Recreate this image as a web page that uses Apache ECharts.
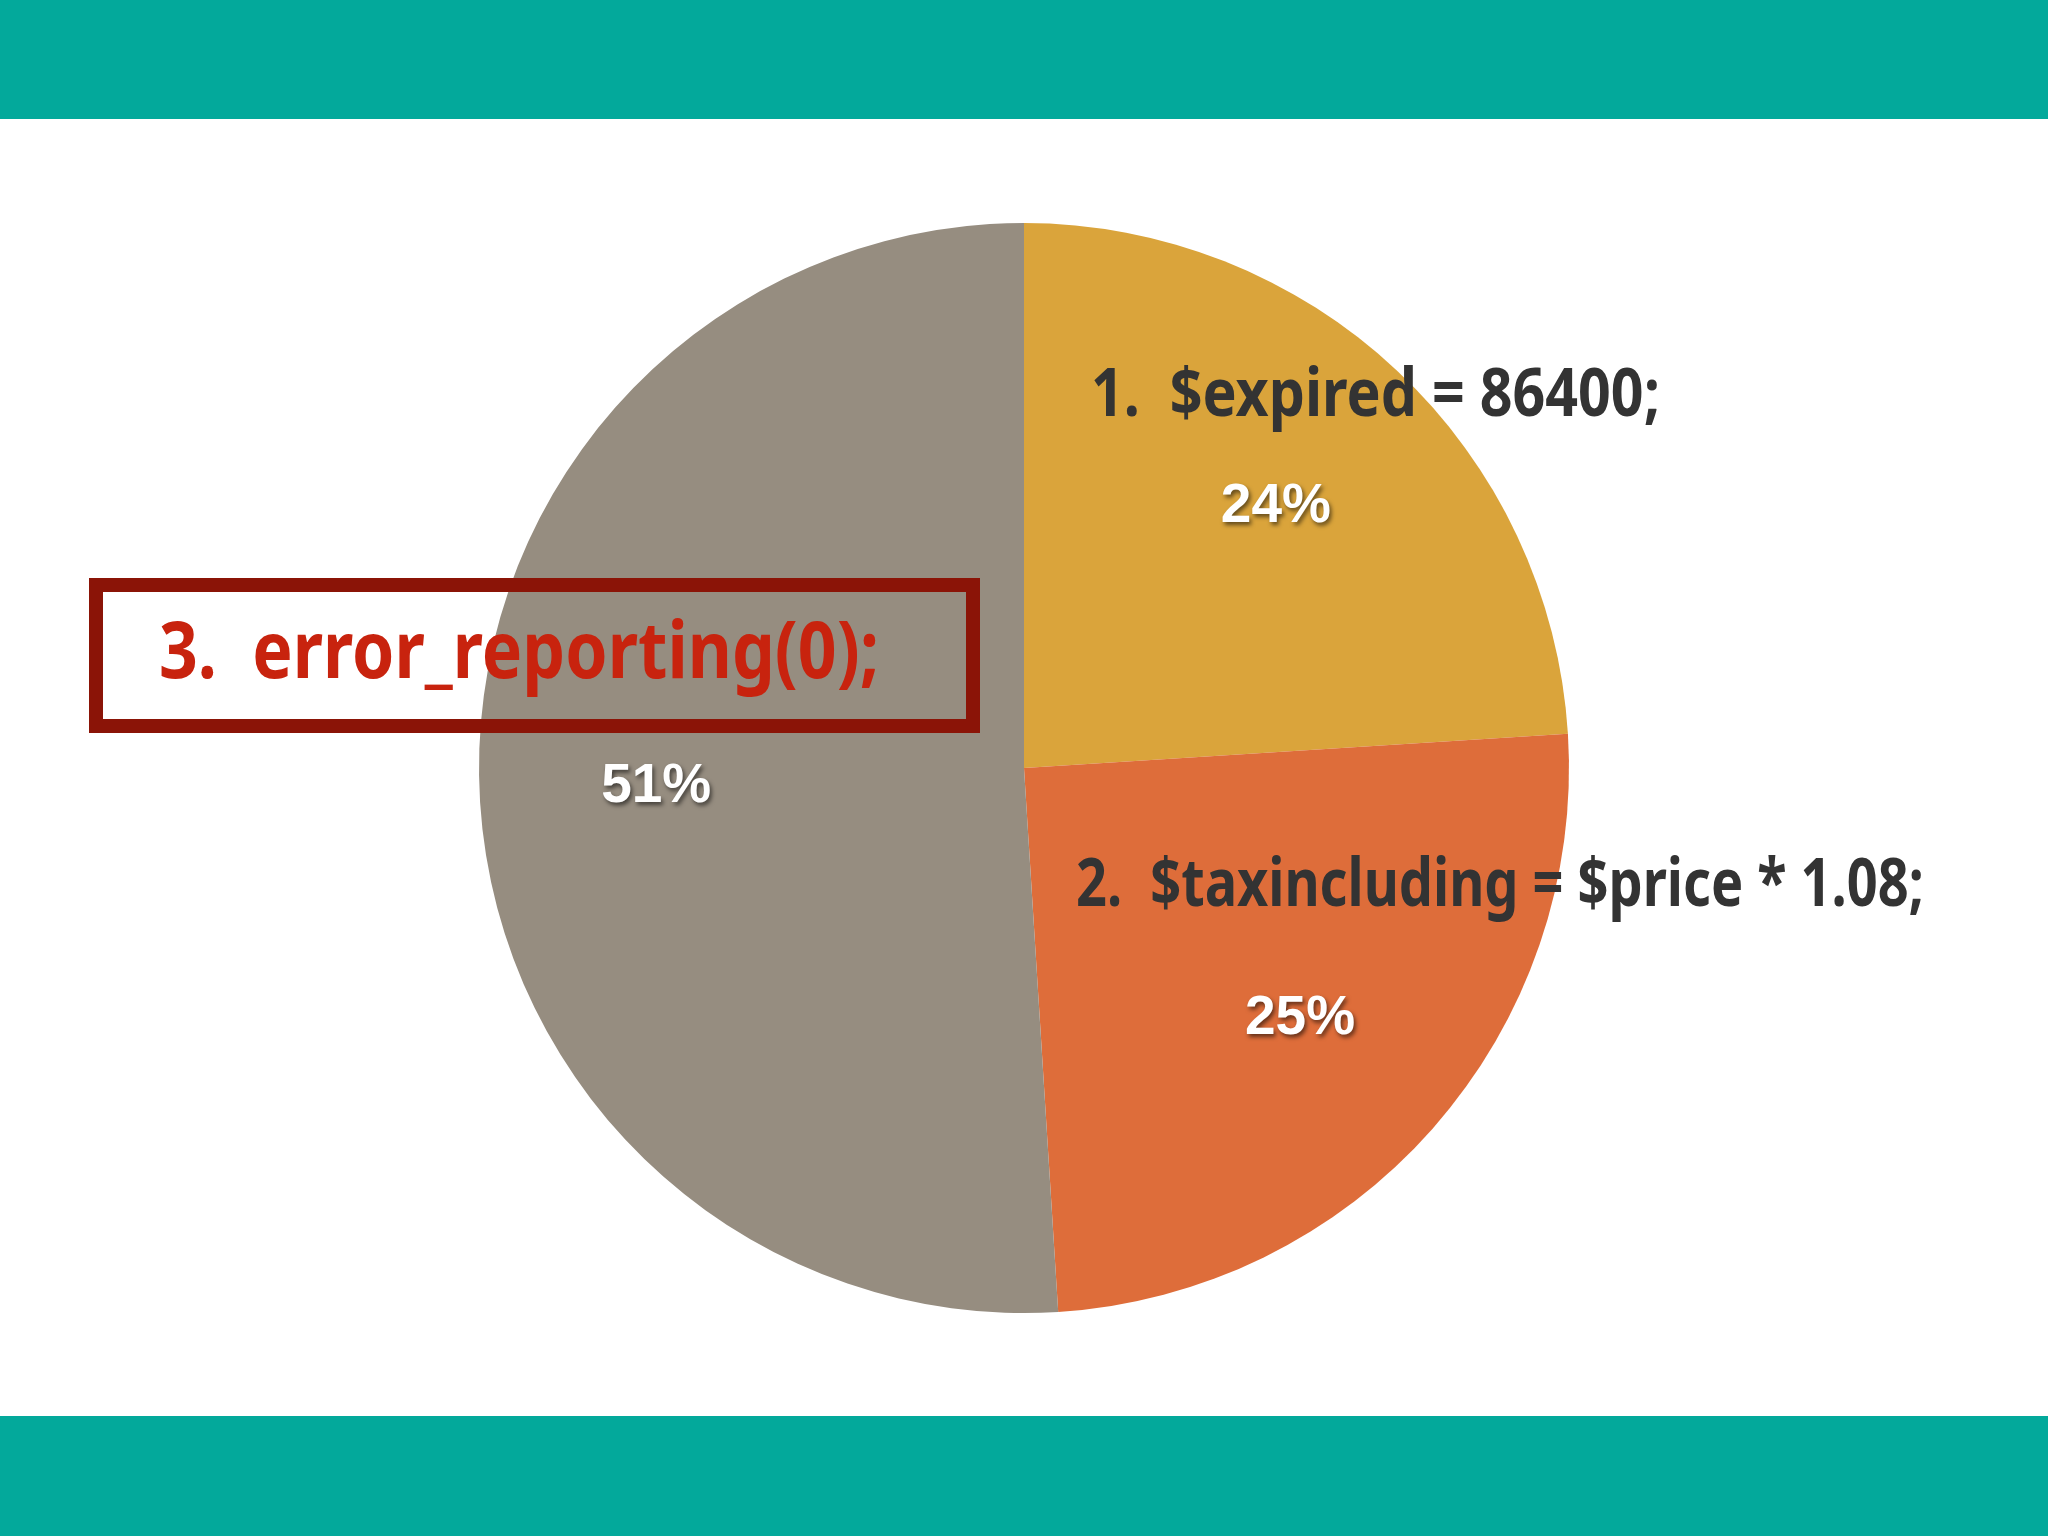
<!DOCTYPE html>
<html>
<head>
<meta charset="utf-8">
<script src="https://cdn.jsdelivr.net/npm/echarts@6.0.0/dist/echarts.min.js"></script>
<style>
html, body { margin: 0; padding: 0; background: #fff; }
#chart { width: 2048px; height: 1536px; }
</style>
</head>
<body>
<div id="chart"></div>
<script>

// slices, clockwise from 12 o'clock
var codeLines = [ '1.  $expired = 86400;', '2.  $taxincluding = $price * 1.08;', '3.  error_reporting(0);' ];
var shares = [ 24, 25, 51 ];
var sliceColors = [ '#DAA43B', '#DE6D3A', '#968D80' ];

var teal = '#03A99B';

var dom = document.getElementById('chart');
var chart = echarts.init(dom);

var pieData = [];
var labelData = [];
var i = 0, iLen = shares.length;
for( ; i < iLen; ++i ){
	pieData.push({ name: codeLines[ i ], value: shares[ i ], itemStyle: { color: sliceColors[ i ] } });
	labelData.push({ name: codeLines[ i ], value: shares[ i ] });
}

// no condensed face installed -> squeeze a bold face horizontally to the wanted width
var codeFamily = '"Noto Sans", sans-serif';
var measureCtx = document.createElement('canvas').getContext('2d');
var condensedText = function( text, x, y, size, width, color ){
	var font = 'bold ' + size + 'px ' + codeFamily;
	measureCtx.font = font;
	var w = measureCtx.measureText( text ).width;
	return {
		type: 'text', x: x, y: y, z: 10, scaleX: width / w,
		style: { text: text, fill: color, font: font, textAlign: 'left', textVerticalAlign: 'middle' }
	};
};

var option = {
	backgroundColor: '#ffffff',
	animation: false,
	series: [
		{
			type: 'pie', silent: true,
			center: [ '50%', '50%' ], radius: [ 0, 545 ],
			startAngle: 90, clockwise: true,
			label: { show: false }, labelLine: { show: false },
			itemStyle: { borderWidth: 0 },
			data: pieData
		},
		// transparent ring just to place the % labels further out
		{
			type: 'pie', silent: true,
			center: [ '50%', '50%' ], radius: [ 185, 545 ],
			startAngle: 90, clockwise: true,
			itemStyle: { color: 'rgba(0,0,0,0)' },
			labelLine: { show: false },
			label: {
				show: true, position: 'inside', formatter: '{c}%', offset: [ 0, 7 ],
				color: '#ffffff', fontFamily: '"Liberation Sans", sans-serif',
				fontWeight: 'bold', fontSize: 55,
				textShadowColor: 'rgba(0,0,0,0.55)', textShadowBlur: 4,
				textShadowOffsetX: 2, textShadowOffsetY: 3
			},
			data: labelData
		}
	],
	graphic: [
		{ type: 'rect', shape: { x: 0, y: 0, width: 2048, height: 119 }, style: { fill: teal } },
		{ type: 'rect', shape: { x: 0, y: 1416, width: 2048, height: 120 }, style: { fill: teal } },
		condensedText( codeLines[ 0 ], 1091, 397, 67, 569, '#333333' ),
		condensedText( codeLines[ 1 ], 1076, 887, 67, 848, '#333333' ),
		{
			type: 'rect', z: 10,
			shape: { x: 96, y: 585, width: 877, height: 141 },
			style: { fill: 'none', stroke: '#8B1407', lineWidth: 14 }
		},
		condensedText( codeLines[ 2 ], 159, 656, 78, 720, '#C8230E' )
	]
};

chart.setOption(option);

</script>
</body>
</html>
